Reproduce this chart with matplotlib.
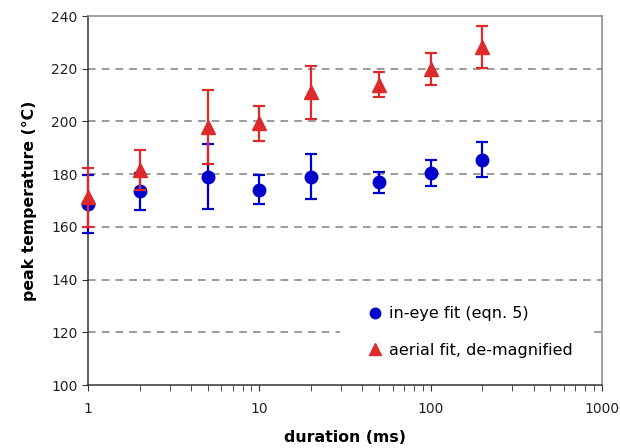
import matplotlib.pyplot as plt
from matplotlib.lines import Line2D

duration = [1, 2, 5, 10, 20, 50, 100, 200]

# in-eye fit (eqn. 5)
eye_temp = [168.5, 173.5, 179.0, 174.0, 179.0, 177.0, 180.5, 185.5]
eye_err = [11.0, 7.0, 12.3, 5.5, 8.5, 4.0, 5.0, 6.7]

# aerial fit, de-magnified
aerial_temp = [171.2, 181.6, 197.8, 199.3, 211.0, 213.9, 220.0, 228.2]
aerial_err = [11.3, 7.5, 14.0, 6.6, 10.0, 4.7, 6.0, 8.0]

grid_levels = [140, 160, 180, 200, 220]

blue = '#0000cc'
red = '#dd2b2b'
grid_style = dict(linestyle=(0, (5, 4)), color='#808080', linewidth=1.1, zorder=0.5)

fig = plt.figure(figsize=(6.2, 4.48), dpi=100)
ax = fig.add_axes([88 / 620, 1 - 385 / 448, 514 / 620, 369 / 448])

eb1 = ax.errorbar(duration, eye_temp, yerr=eye_err, fmt='o', color=blue,
                  markersize=9, elinewidth=1.6, capsize=4, capthick=1.6, zorder=3)
eb2 = ax.errorbar(duration, aerial_temp, yerr=aerial_err, fmt='^', color=red,
                  markersize=10.5, elinewidth=1.6, capsize=4, capthick=1.6, zorder=4)
for eb in (eb1, eb2):
    for art in eb.get_children():
        art.set_clip_on(False)

ax.set_xscale('log')
ax.set_xlim(1, 1000)
ax.set_ylim(100, 240)
ax.set_yticks(range(100, 241, 20))
ax.set_xticks([1, 10, 100, 1000])
ax.set_xticklabels(['1', '10', '100', '1000'])

# dashed gridlines; the 120 line is broken where the legend sits
for level in grid_levels:
    ax.axhline(level, **grid_style)
ax.axhline(120, xmin=0, xmax=0.49, **grid_style)
ax.axhline(120, xmin=0.985, xmax=1, **grid_style)

for side in ['top', 'right']:
    ax.spines[side].set_color('#888888')
for side in ['left', 'bottom']:
    ax.spines[side].set_color('#333333')
for sp in ax.spines.values():
    sp.set_linewidth(1.1)

ax.tick_params(axis='both', which='both', direction='out', color='#333333',
               labelsize=10, labelcolor='#222222')
ax.tick_params(axis='both', which='major', length=4)
ax.tick_params(axis='x', which='minor', length=4)
ax.tick_params(axis='x', pad=8)

ax.set_xlabel('duration (ms)', fontsize=11.3, fontweight='bold', labelpad=10)
ax.set_ylabel('peak temperature (\u00b0C)', fontsize=11.3, fontweight='bold',
              labelpad=10)

handles = [
    Line2D([], [], marker='o', color=blue, linestyle='none', markersize=7.5),
    Line2D([], [], marker='^', color=red, linestyle='none', markersize=9),
]
labels = ['in-eye fit (eqn. 5)', 'aerial fit, de-magnified']
leg = ax.legend(handles, labels, loc='center left',
                bbox_to_anchor=(0.502, 0.143), fontsize=11.5, frameon=False,
                labelspacing=1.35, handlelength=1.0, handletextpad=0.4,
                borderpad=0.8)
leg.set_zorder(5)

fig.savefig('out.png', dpi=100)
